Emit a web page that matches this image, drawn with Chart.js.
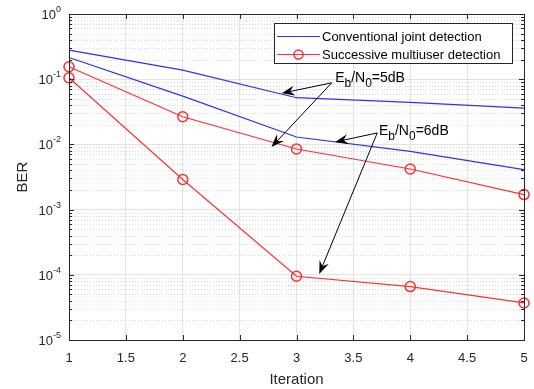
<!DOCTYPE html>
<html>
<head>
<meta charset="utf-8">
<script src="https://cdn.jsdelivr.net/npm/chart.js@4.4.0/dist/chart.umd.min.js"></script>
<style>
  html, body { margin: 0; padding: 0; background: #fff; }
  #wrap { width: 534px; height: 389px; }
</style>
</head>
<body>
<div id="wrap"><canvas id="berChart" width="534" height="389"></canvas></div>
<script>
// data
const iterations = [1, 2, 3, 4, 5];
const conv5dB = [0.28, 0.138, 0.052, 0.044, 0.036];
const conv6dB = [0.215, 0.055, 0.013, 0.0078, 0.0041];
const succ5dB = [0.155, 0.0265, 0.0085, 0.0042, 0.0017];
const succ6dB = [0.105, 0.0029, 0.000095, 0.000066, 0.000037];

const xTicks = [1, 1.5, 2, 2.5, 3, 3.5, 4, 4.5, 5];
const yExponents = [0, -1, -2, -3, -4, -5];
const legendLabels = ["Conventional joint detection", "Successive multiuser detection"];

const BLUE = "#2f2fff";
const RED = "#ff3030";
const AXIS = "#262626";
const FONT = "'Liberation Sans', Arial, sans-serif";

const toPoints = vals => vals.map((v, i) => ({ x: iterations[i], y: v }));

// all decade + minor values for the log axis
const yAllTicks = [];
yExponents.slice().reverse().forEach(e => {
  for (let m = 1; m <= 9; m++) {
    const v = m * Math.pow(10, e);
    if (v <= 1) yAllTicks.push(v);
  }
});
const isDecade = v => Math.abs(Math.log10(v) - Math.round(Math.log10(v))) < 1e-9;

// text arrows in data coordinates: [fromX, fromY, toX, toY]
const notes = [
  { label: ["E", "b", "/N", "0", "=5dB"], at: [3.34, 0.091], arrows: [[3.31, 0.088, 2.87, 0.061], [3.31, 0.088, 2.78, 0.0091]] },
  { label: ["E", "b", "/N", "0", "=6dB"], at: [3.725, 0.0139], arrows: [[3.71, 0.015, 3.34, 0.0109], [3.71, 0.015, 3.2, 0.000103]] }
];

function arrow(ctx, x1, y1, x2, y2) {
  const ang = Math.atan2(y2 - y1, x2 - x1);
  const len = 13, half = 5;
  ctx.strokeStyle = "#000";
  ctx.fillStyle = "#000";
  ctx.lineWidth = 1;
  ctx.beginPath();
  ctx.moveTo(x1, y1);
  ctx.lineTo(x2 - Math.cos(ang) * len * 0.6, y2 - Math.sin(ang) * len * 0.6);
  ctx.stroke();
  const bx = x2 - Math.cos(ang) * len, by = y2 - Math.sin(ang) * len;
  const nx = -Math.sin(ang) * half, ny = Math.cos(ang) * half;
  const mx = x2 - Math.cos(ang) * len * 0.65, my = y2 - Math.sin(ang) * len * 0.65;
  ctx.beginPath();
  ctx.moveTo(x2, y2);
  ctx.lineTo(bx + nx, by + ny);
  ctx.lineTo(mx, my);
  ctx.lineTo(bx - nx, by - ny);
  ctx.closePath();
  ctx.fill();
}

const matlabLook = {
  id: "matlabLook",
  beforeDatasetsDraw(chart) {
    const { ctx, chartArea: a, scales: { y } } = chart;
    ctx.save();
    // minor dotted grid on log axis
    ctx.strokeStyle = "#dadada";
    ctx.lineWidth = 1;
    ctx.setLineDash([1, 2]);
    yAllTicks.forEach(v => {
      if (isDecade(v)) return;
      const py = Math.round(y.getPixelForValue(v)) + 0.5;
      ctx.beginPath();
      ctx.moveTo(a.left, py);
      ctx.lineTo(a.right, py);
      ctx.stroke();
    });
    ctx.restore();
  },
  afterDraw(chart) {
    const { ctx, chartArea: a, scales: { x, y } } = chart;
    ctx.save();
    // box
    ctx.strokeStyle = AXIS;
    ctx.lineWidth = 1;
    ctx.strokeRect(Math.round(a.left) + 0.5, Math.round(a.top) + 0.5, Math.round(a.right - a.left), Math.round(a.bottom - a.top));

    // inward ticks
    ctx.beginPath();
    xTicks.forEach(v => {
      const px = Math.round(x.getPixelForValue(v)) + 0.5;
      ctx.moveTo(px, a.bottom); ctx.lineTo(px, a.bottom - 5);
      ctx.moveTo(px, a.top); ctx.lineTo(px, a.top + 5);
    });
    yAllTicks.forEach(v => {
      const py = Math.round(y.getPixelForValue(v)) + 0.5;
      const l = isDecade(v) ? 5 : 3;
      ctx.moveTo(a.left, py); ctx.lineTo(a.left + l, py);
      ctx.moveTo(a.right, py); ctx.lineTo(a.right - l, py);
    });
    ctx.stroke();

    // tick labels
    ctx.fillStyle = AXIS;
    ctx.textBaseline = "alphabetic";
    ctx.font = "13px " + FONT;
    ctx.textAlign = "center";
    xTicks.forEach(v => {
      ctx.fillText(String(v), x.getPixelForValue(v), a.bottom + 22);
    });
    yExponents.forEach(e => {
      const py = y.getPixelForValue(Math.pow(10, e));
      const sup = e === 0 ? "0" : "-" + Math.abs(e);
      ctx.font = "9px " + FONT;
      const sw = ctx.measureText(sup).width;
      ctx.textAlign = "right";
      ctx.fillText(sup, a.left - 8, py - 2);
      ctx.font = "13px " + FONT;
      ctx.fillText("10", a.left - 8 - sw, py + 5);
    });

    // axis titles
    ctx.font = "15px " + FONT;
    ctx.textAlign = "center";
    ctx.fillText("Iteration", (a.left + a.right) / 2, a.bottom + 44);
    ctx.save();
    ctx.translate(27, (a.top + a.bottom) / 2);
    ctx.rotate(-Math.PI / 2);
    ctx.fillText("BER", 0, 0);
    ctx.restore();

    // annotations
    notes.forEach(n => {
      n.arrows.forEach(ar => {
        arrow(ctx, x.getPixelForValue(ar[0]), y.getPixelForValue(ar[1]), x.getPixelForValue(ar[2]), y.getPixelForValue(ar[3]));
      });
      let px = x.getPixelForValue(n.at[0]);
      const py = y.getPixelForValue(n.at[1]);
      ctx.fillStyle = "#000";
      ctx.textAlign = "left";
      n.label.forEach((part, i) => {
        const sub = i % 2 === 1;
        ctx.font = (sub ? "12px " : "14px ") + FONT;
        ctx.fillText(part, px, sub ? py + 5 : py);
        px += ctx.measureText(part).width;
      });
    });

    // legend
    const lx = 274, ly = 23, lw = 238, lh = 40;
    ctx.fillStyle = "#fff";
    ctx.fillRect(lx, ly, lw, lh);
    ctx.strokeStyle = AXIS;
    ctx.strokeRect(lx + 0.5, ly + 0.5, lw, lh);
    const rows = [{ c: BLUE, marker: false, y: 36 }, { c: RED, marker: true, y: 54 }];
    rows.forEach((r, i) => {
      ctx.strokeStyle = r.c;
      ctx.lineWidth = 1.2;
      ctx.beginPath();
      ctx.moveTo(277, r.y + 0.5);
      ctx.lineTo(320, r.y + 0.5);
      ctx.stroke();
      if (r.marker) {
        ctx.lineWidth = 1.5;
        ctx.beginPath();
        ctx.arc(298.5, r.y + 0.5, 4.5, 0, Math.PI * 2);
        ctx.stroke();
      }
      ctx.fillStyle = "#000";
      ctx.font = "13px " + FONT;
      ctx.textAlign = "left";
      ctx.fillText(legendLabels[i], 322, r.y + 5);
    });
    ctx.restore();
  }
};

const line = (data, color, marker) => ({
  data: toPoints(data),
  borderColor: color,
  backgroundColor: "transparent",
  borderWidth: 1.2,
  pointStyle: "circle",
  pointRadius: marker ? 5 : 0,
  pointBorderWidth: 1.5,
  pointBorderColor: color,
  pointBackgroundColor: "transparent",
  clip: false,
  tension: 0
});

new Chart(document.getElementById("berChart"), {
  type: "line",
  data: {
    datasets: [
      line(conv5dB, BLUE, false),
      line(conv6dB, BLUE, false),
      line(succ5dB, RED, true),
      line(succ6dB, RED, true)
    ]
  },
  options: {
    responsive: false,
    animation: false,
    events: [],
    layout: { padding: { left: 69, right: 10, top: 14, bottom: 49 } },
    plugins: { legend: { display: false }, tooltip: { enabled: false } },
    scales: {
      x: {
        type: "linear",
        min: 1,
        max: 5,
        afterBuildTicks: s => { s.ticks = xTicks.map(v => ({ value: v })); },
        ticks: { display: false },
        grid: { color: "#e3e3e3", drawTicks: false },
        border: { display: false }
      },
      y: {
        type: "logarithmic",
        min: 1e-5,
        max: 1,
        afterBuildTicks: s => { s.ticks = yAllTicks.map(v => ({ value: v })); },
        ticks: { display: false },
        grid: {
          color: c => (c.tick && isDecade(c.tick.value) ? "#e3e3e3" : "transparent"),
          drawTicks: false
        },
        border: { display: false }
      }
    }
  },
  plugins: [matlabLook]
});
</script>
</body>
</html>
